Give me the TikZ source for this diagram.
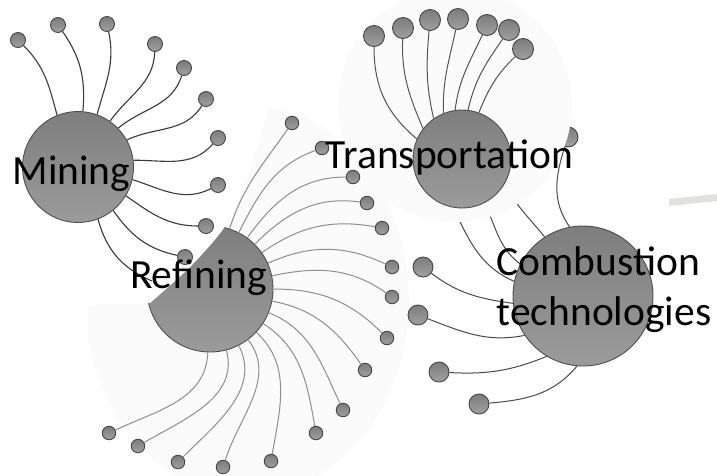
\documentclass[tikz,border=0pt]{standalone}
\usepackage{fontspec}
\setmainfont{Carlito}
\definecolor{ringline}{HTML}{4F4F4F}
\definecolor{hubtop}{HTML}{7E7E7E}
\definecolor{hubbot}{HTML}{9B9B9B}
\definecolor{sattop}{HTML}{7C7C7C}
\definecolor{satbot}{HTML}{A0A0A0}
\definecolor{satline}{HTML}{454545}
\definecolor{mline}{HTML}{3A3A3A}
\definecolor{rline}{HTML}{8E8E8E}
\definecolor{tline}{HTML}{555555}
\definecolor{cline}{HTML}{4A4A4A}
\definecolor{bdrop}{HTML}{FBFBFB}
\definecolor{barc}{HTML}{E2E2DD}
\begin{document}
\begin{tikzpicture}[x=1pt,y=1pt,
  hub/.style={circle, draw=ringline, line width=0.9pt, top color=hubtop, bottom color=hubbot, inner sep=0pt},
  sat/.style={circle, draw=satline, line width=0.9pt, top color=sattop, bottom color=satbot, inner sep=0pt},
  lbl/.style={font=\fontsize{41.5}{50}\selectfont, inner sep=0pt, anchor=base, text=black},
  mspoke/.style={draw=mline, line width=1.1pt},
  rspoke/.style={draw=rline, line width=1pt},
  tspoke/.style={draw=tline, line width=1pt},
  cspoke/.style={draw=cline, line width=1pt}]
\useasboundingbox (0,0) rectangle (717,-475);
\fill[white] (0,0) rectangle (717,-475);

% Refining backdrop
\fill[bdrop] (247,-300) ellipse (162 and 195);

% Refining cluster
\node[hub, minimum size=126pt] (R) at (210,-289) {};
\foreach \n/\x/\y in {ra/292/123, rb/322/148, rc/353/177, rd/367/203, re/382/228, rf/392/267, rg/392/297, rh/387/338, ri/365/370, rj/343/410, rk/316/433, rl/271/461, rm/223/467, rn/178/462, ro/138/446, rp/109/433}
  \node[sat, minimum size=13.5pt] (\n) at (\x,-\y) {};
\foreach \a/\i/\s in {72/235/ra, 63/200/rb, 54/180/rc, 45/172/rd, 35/170/re, 24/155/rf, 12/145/rg, 0/135/rh, -11/125/ri, -22/115/rj, -33/100/rk, -43/80/rl, -53/72/rm, -63/45/rn, -75/30/ro, -92/25/rp}
  \draw[rspoke] (R.\a) to[out=\a, in=\i] (\s);

% Combustion cluster
\node[hub, minimum size=140pt] (C) at (583,-296) {};
\foreach \n/\x/\y in {q1/423/267, q2/418/315, q3/439/372, q4/479/404, q0/568/137}
  \node[sat, minimum size=20pt] (\n) at (\x,-\y) {};
\coordinate (u1) at (447,-195);
\coordinate (u2) at (480,-195);
\coordinate (u3) at (505,-185);
\foreach \a/\o/\i/\s in {186/172/-37/q1, 214/191/-21/q2, 239/202/-3/q3, 265/230/5/q4, 101/125/252/q0, 168/156/297/u1, 153/143/301/u2, 123/129/299/u3}
  \draw[cspoke] (C.\a) to[out=\o, in=\i] (\s);

% Transportation backdrop and cluster
\fill[bdrop] (455,-105) circle (117);
\node[hub, minimum size=98pt] (T) at (462,-159) {};
\foreach \n/\x/\y in {t1/374/36, t2/403/28, t3/430/20, t4/458/19, t5/487/25, t6/509/30, t7/523/49}
  \node[sat, minimum size=21pt] (\n) at (\x,-\y) {};
\foreach \a/\o/\i/\s in {156/140/270/t1, 142/113/268/t2, 125/103/265/t3, 112/92/258/t4, 98/83/245/t5, 83/77/235/t6, 70/68/224/t7}
  \draw[tspoke] (T.\a) to[out=\o, in=\i] (\s);

% Mining backdrop (white) over the Refining cluster
\fill[white] (0,0) -- (282,0) -- plot[smooth] coordinates {(268,-108) (250,-170) (228,-222) (192,-265) (150,-303)} -- (88,-305) -- (86,-475) -- (0,-475) -- cycle;

% Mining cluster
\node[hub, minimum size=111pt] (M) at (78,-167) {};
\foreach \n/\x/\y in {m1/18/40, m2/58/25, m3/107/24, m4/155/44, m5/184/68, m6/206/99, m7/218/138, m8/218/185, m9/206/226, m10/185/257}
  \node[sat, minimum size=15pt] (\n) at (\x,-\y) {};
\coordinate (m11) at (152,-281);
\foreach \a/\o/\i/\s in {112/105/-45/m1, 85/85/-55/m2, 70/75/-78/m3, 55/55/-92/m4, 44/40/-107/m5, 29/25/-122/m6, 7/0/-131/m7, -13/-18/-153/m8, -31/-35/180/m9, -51/-55/168/m10, -69/-75/157/m11}
  \draw[mspoke] (M.\a) to[out=\o, in=\i] (\s);

% Labels
\node[lbl] (Ml) at (71.5,-184) {Mining};
\node[lbl] (Rl) at (198.5,-288) {Refining};
\node[lbl] (Tl) at (449.5,-168) {Transportation};
\node[lbl] (Cl1) at (598.5,-275) {Combustion};
\node[lbl] (Cl2) at (604,-325) {technologies};

% faint bar at right edge
\fill[barc] (669,-199) -- (717,-194) -- (717,-201) -- (669,-206) -- cycle;
\end{tikzpicture}
\end{document}
